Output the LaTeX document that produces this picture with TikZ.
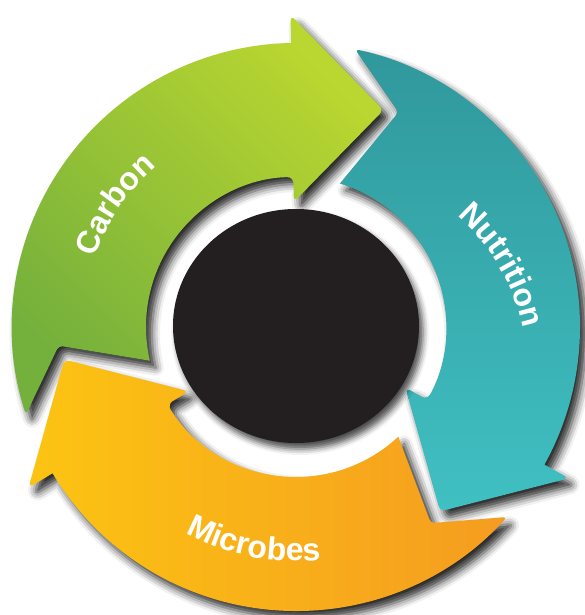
\documentclass[tikz,border=0pt]{standalone}
\usepackage{fontspec}
\newfontfamily\cyclefont{Liberation Sans}
\usetikzlibrary{shapes.geometric,shadows.blur,decorations.text}

\definecolor{carbondark}{RGB}{116,176,60}
\definecolor{carbonlight}{RGB}{186,214,48}
\definecolor{nutritiondark}{RGB}{48,152,156}
\definecolor{nutritionlight}{RGB}{64,192,194}
\definecolor{microbeslight}{RGB}{252,196,18}
\definecolor{microbesdark}{RGB}{245,156,32}
\definecolor{hubblack}{RGB}{35,31,32}

\tikzset{
  band/.style={blur shadow={shadow xshift=6pt, shadow yshift=-7pt,
      shadow blur radius=8pt, shadow opacity=85}},
  carbon/.style={band, top color=carbonlight, bottom color=carbondark, shading angle=-45},
  nutrition/.style={band, top color=nutritiondark, bottom color=nutritionlight},
  microbes/.style={band, left color=microbeslight, right color=microbesdark},
  ringtext/.style={decorate, decoration={text along path, text align=center,
      text color=white, text={|\cyclefont\bfseries\fontsize{32}{32}\selectfont|#1}}},
}

\begin{document}
\begin{tikzpicture}[x=1pt, y=1pt]
  \useasboundingbox (-296,-288) rectangle (289,327);
  % three curved arrows, head base at angle \b
  \foreach \b/\s in {91/carbon, -29/nutrition, 211/microbes}
    \path[\s] ({\b+107}:284) arc[start angle=\b+107, end angle=\b, radius=284]
      {[rounded corners=6pt] -- (\b:312) -- ({\b-23}:234) -- (\b:125) -- (\b:150)}
      arc[start angle=\b, end angle=\b+102, radius=150]
      {[rounded corners=4pt] -- ({\b+93.5}:238) -- cycle};
  % centre disc
  \node[ellipse, fill=hubblack, minimum width=246pt, minimum height=234pt, inner sep=0pt,
    blur shadow={shadow xshift=4pt, shadow yshift=-6pt, shadow blur radius=6pt, shadow opacity=70}]
    (hub) at (0,1) {};
  % labels along the ring
  \path[ringtext=Carbon] (176:213) arc[start angle=176, end angle=116, radius=213];
  \path[ringtext=Nutrition] ([shift={(25,-45)}]61:207) arc[start angle=61, end angle=0, radius=207];
  \path[ringtext=Microbes] (229:234) arc[start angle=229, end angle=289, radius=234];
\end{tikzpicture}
\end{document}
